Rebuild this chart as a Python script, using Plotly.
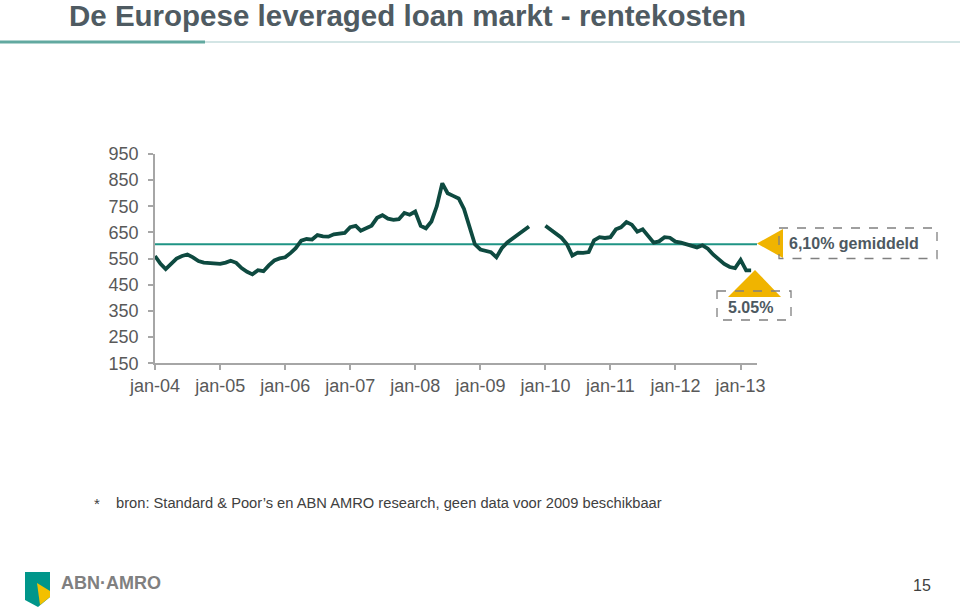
import pandas as pd
import plotly.graph_objects as go

W, H = 960, 610

# ---- data (basis points, monthly from jan-04) ----
months = pd.date_range("2004-01-01", periods=111, freq="MS")
spread = [
    560, 530, 510, 528, 550, 560, 566, 555, 541, 535, 534, 530,   # 2004
    530, 535, 542, 534, 514, 500, 490, 506, 502, 524, 543, 551,   # 2005
    555, 572, 590, 619, 625, 623, 640, 635, 634, 643, 647, 648,   # 2006
    670, 675, 657, 667, 676, 706, 716, 703, 698, 701, 725, 718,   # 2007
    730, 675, 666, 692, 750, 838, 800, 790, 780, 740, 665, 605,   # 2008
    585, 580, 575, 555, 590, 612, 627, 640, 660, 673, None, None, # 2009
    676, 660, 645, 630, 606, 562, 573, 572, 575, 620, 632, 629,   # 2010
    632, 662, 670, 690, 680, 653, 662, 635, 611, 616, 632, 630,   # 2011
    615, 611, 605, 597, 593, 601, 588, 565, 545, 530, 518, 514,   # 2012
    545, 505, 505,                                                # 2013
]
average = 605
avg_label = "6,10% gemiddeld"
last_label = "5.05%"
tick_dates = pd.date_range("2004-01-01", "2013-01-01", freq="YS")
tick_labels = ["jan-%02d" % (d.year % 100) for d in tick_dates]
x_end = "2013-04-03"


def px(x):
    return x / W


def py(y):
    return 1 - y / H


def path(points):
    s = "M " + " L ".join(f"{px(a)},{py(b)}" for a, b in points) + " Z"
    return s


fig = go.Figure()
fig.add_trace(go.Scatter(
    x=[months[0], x_end], y=[average, average], mode="lines",
    line=dict(color="#1f9485", width=2), hoverinfo="skip"))
fig.add_trace(go.Scatter(
    x=months, y=spread, mode="lines", connectgaps=False,
    line=dict(color="#0e4a40", width=3.8)))

axis_color = "#a6a6a6"
tick_font = dict(family="Arial, Liberation Sans", size=18, color="#595959")

fig.update_layout(
    template="none",
    width=W, height=H, autosize=False,
    margin=dict(l=0, r=0, t=0, b=0, pad=0, autoexpand=False),
    paper_bgcolor="white", plot_bgcolor="white", showlegend=False,
    xaxis=dict(domain=[px(155), px(757)], type="date", automargin=False,
               range=[months[0], x_end], tickvals=tick_dates, ticktext=tick_labels,
               ticks="outside", ticklen=5, tickcolor=axis_color, tickwidth=1.5,
               showline=True, linecolor=axis_color, linewidth=1.5,
               showgrid=False, zeroline=False, tickfont=tick_font),
    yaxis=dict(domain=[py(363.3), py(154)], range=[150, 950], automargin=False,
               tick0=150, dtick=100, ticks="outside", ticklen=5,
               tickcolor=axis_color, tickwidth=1.5,
               showline=True, linecolor=axis_color, linewidth=1.5,
               showgrid=False, zeroline=False, tickfont=tick_font,
               ticklabelstandoff=6),
)

gold = "#F0B400"
teal = "#00968A"
shapes = [
    # header separator
    dict(type="line", xref="paper", yref="paper", x0=px(0), x1=px(205),
         y0=py(42), y1=py(42), line=dict(color="#62a9a0", width=3)),
    dict(type="line", xref="paper", yref="paper", x0=px(205), x1=px(960),
         y0=py(42), y1=py(42), line=dict(color="#d3e5e5", width=2)),
    # average marker
    dict(type="path", xref="paper", yref="paper",
         path=path([(757, 243.5), (783, 229), (783, 258)]),
         fillcolor=gold, line=dict(width=0)),
    dict(type="rect", xref="paper", yref="paper", x0=px(779), x1=px(937),
         y0=py(228), y1=py(258.5), line=dict(color="#808080", width=1.3, dash="dash")),
    # last value marker
    dict(type="path", xref="paper", yref="paper",
         path=path([(755, 270), (728, 297), (781, 297)]),
         fillcolor=gold, line=dict(width=0)),
    dict(type="rect", xref="paper", yref="paper", x0=px(717), x1=px(791),
         y0=py(291), y1=py(320), line=dict(color="#808080", width=1.3, dash="dash")),
    # logo shield
    dict(type="path", xref="paper", yref="paper",
         path=path([(25, 572), (50, 572), (50, 597), (38, 607), (25, 600)]),
         fillcolor=teal, line=dict(width=0)),
    dict(type="path", xref="paper", yref="paper",
         path=path([(37, 583), (50, 591), (50, 597), (40, 605)]),
         fillcolor="#F3C000", line=dict(width=0)),
]
fig.update_layout(shapes=shapes)

label_color = "#4d5961"
annotations = [
    dict(text="De Europese leveraged loan markt - rentekosten",
         x=px(67), y=py(15), xanchor="left", yanchor="middle",
         font=dict(family="Arial, Liberation Sans", size=29.5, color="#4f5b62", weight="bold")),
    dict(text=avg_label, x=px(787), y=py(243.5), xanchor="left", yanchor="middle",
         font=dict(family="Arial, Liberation Sans", size=16, color=label_color, weight="bold")),
    dict(text=last_label, x=px(726), y=py(307), xanchor="left", yanchor="middle",
         font=dict(family="Arial, Liberation Sans", size=16, color=label_color, weight="bold")),
    dict(text="*", x=px(92), y=py(503), xanchor="left", yanchor="middle",
         font=dict(family="Arial, Liberation Sans", size=15, color="#404040")),
    dict(text="bron: Standard &amp; Poor’s en ABN AMRO research, geen data voor 2009 beschikbaar",
         x=px(114), y=py(503), xanchor="left", yanchor="middle",
         font=dict(family="Arial, Liberation Sans", size=14.7, color="#404040")),
    dict(text="ABN·AMRO", x=px(59), y=py(583), xanchor="left", yanchor="middle",
         font=dict(family="Arial, Liberation Sans", size=18, color="#808080", weight="bold")),
    dict(text="15", x=px(922), y=py(585), xanchor="center", yanchor="middle",
         font=dict(family="Arial, Liberation Sans", size=16, color="#404040")),
]
for a in annotations:
    a.update(xref="paper", yref="paper", showarrow=False)
fig.update_layout(annotations=annotations)

fig.write_html("out.html")
